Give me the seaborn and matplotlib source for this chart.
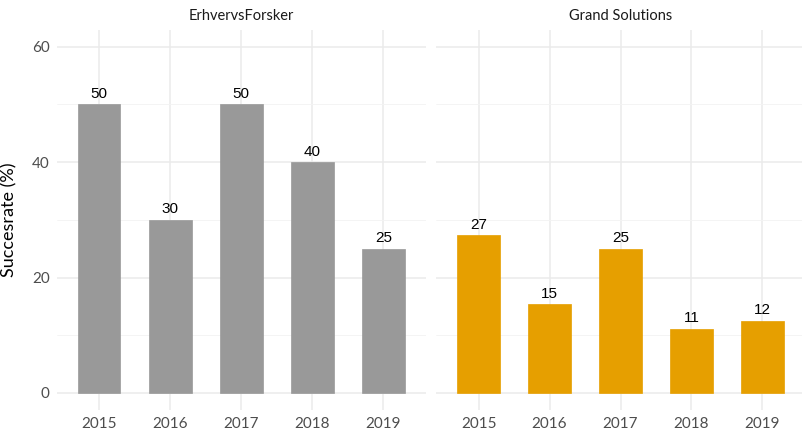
import matplotlib
matplotlib.use("Agg")
import matplotlib.pyplot as plt
import seaborn as sns
import pandas as pd
import numpy as np

years = ["2015", "2016", "2017", "2018", "2019"]
erhvervs_values = [50, 30, 50, 40, 25]
grand_values = [27.3, 15.4, 25.0, 11.1, 12.5]
panels = ["ErhvervsForsker", "Grand Solutions"]
colors = ["#999999", "#E69F00"]

sns.set_theme(style="whitegrid")
plt.rcParams['font.family'] = ['Lato', 'DejaVu Sans']

fig = plt.figure(figsize=(8.02, 4.33), dpi=100)
W, H = 802, 433
y_top, y_bot = 30, 410
axes = [
    fig.add_axes([56.5 / W, 1 - y_bot / H, (426 - 56.5) / W, (y_bot - y_top) / H]),
    fig.add_axes([436 / W, 1 - y_bot / H, (805 - 436) / W, (y_bot - y_top) / H]),
]

for ax, title, vals, col in zip(axes, panels, [erhvervs_values, grand_values], colors):
    df = pd.DataFrame({"year": years, "value": vals})
    sns.barplot(data=df, x="year", y="value", color=col, width=0.6, ax=ax,
                saturation=1, edgecolor=col, linewidth=0.5, errorbar=None, zorder=3)
    for p, v in zip(ax.patches, vals):
        ax.text(p.get_x() + p.get_width() / 2, p.get_height() + 0.6, f"{round(v):d}",
                ha="center", va="bottom", fontsize=11, color="black",
                family=["Liberation Sans", "DejaVu Sans"], zorder=4)
    ax.set_xlim(-0.6, 4.6)
    ax.set_ylim(-2.95, 62.9)
    ax.set_yticks([0, 20, 40, 60])
    ax.set_yticks([10, 30, 50], minor=True)
    ax.grid(True, which="major", color="#EBEBEB", linewidth=1.1, zorder=0)
    ax.grid(True, which="minor", axis="y", color="#F3F3F3", linewidth=0.6, zorder=0)
    ax.set_axisbelow(True)
    for s in ax.spines.values():
        s.set_visible(False)
    ax.set_facecolor("white")
    ax.tick_params(axis="both", which="both", length=0, labelsize=11, colors="#4D4D4D", pad=5)
    ax.set_xlabel("")
    ax.set_ylabel("")
    ax.set_title(title, fontsize=10.5, color="#1A1A1A", pad=7)

axes[1].tick_params(axis="y", labelleft=False)
axes[0].set_ylabel("Succesrate (%)", fontsize=13, color="black", labelpad=10)

fig.savefig("out.png", dpi=100, facecolor="white")
